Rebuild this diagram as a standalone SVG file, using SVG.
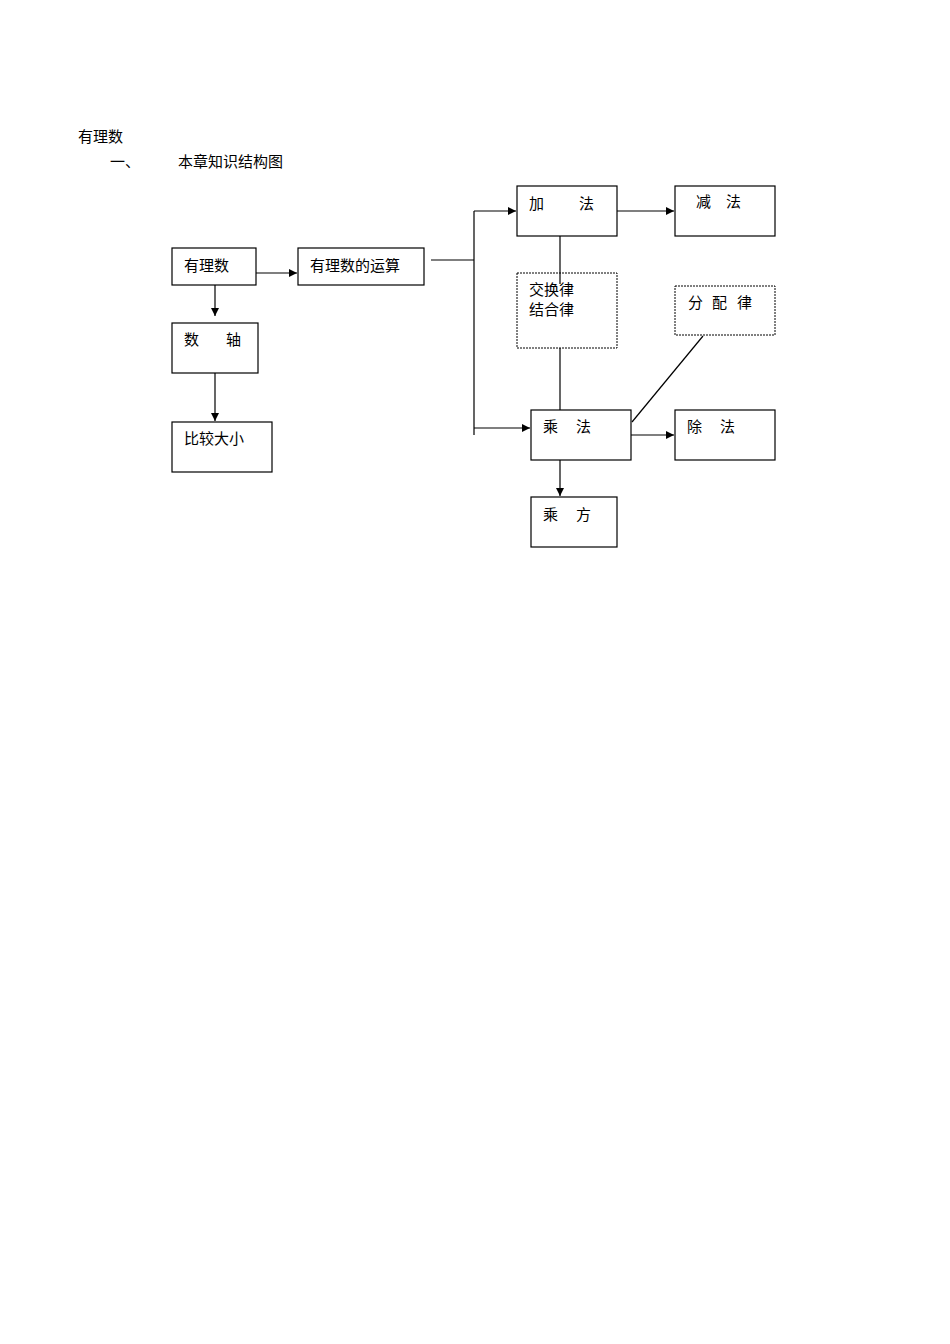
<svg xmlns="http://www.w3.org/2000/svg" width="950" height="1344" viewBox="0 0 950 1344">
<style>
text{font-family:"Noto Sans CJK SC","Liberation Serif",serif;font-size:15px;fill:#000}
.b{fill:#fff;stroke:#000;stroke-width:1.2}
.d{fill:#fff;stroke:#000;stroke-width:1;stroke-dasharray:2,1}
.c{fill:none;stroke:#000;stroke-width:1.2}
</style>
<defs><marker id="a" viewBox="0 0 10 10" refX="10" refY="5" markerWidth="8" markerHeight="8" markerUnits="userSpaceOnUse" orient="auto"><path d="M0,0L10,5L0,10z"/></marker></defs>
<rect width="950" height="1344" fill="#fff"/>
<text x="78" y="142">有理数</text>
<text x="110" y="167">一、</text>
<text x="178" y="167">本章知识结构图</text>
<g id="connectors">
<path class="c" d="M256,273H297" marker-end="url(#a)"/>
<path class="c" d="M215,285V316" marker-end="url(#a)"/>
<path class="c" d="M215,373V421" marker-end="url(#a)"/>
<path class="c" d="M431,260H474M474,211V435"/>
<path class="c" d="M474,211H516" marker-end="url(#a)"/>
<path class="c" d="M474,428H530" marker-end="url(#a)"/>
<path class="c" d="M617,211H674" marker-end="url(#a)"/>
<path class="c" d="M631,435H674" marker-end="url(#a)"/>
<path class="c" d="M560,460V496" marker-end="url(#a)"/>
<path class="c" d="M560,348V410"/>
<path class="c" d="M632,422L703,336"/>
</g>
<g id="n1"><rect class="b" x="172" y="248" width="84" height="37"/><text x="184" y="271">有理数</text></g>
<g id="n2"><rect class="b" x="298" y="248" width="126" height="37"/><text x="310" y="271">有理数的运算</text></g>
<g id="n3"><rect class="b" x="172" y="323" width="86" height="50"/><text x="184" y="345">数</text><text x="226" y="345">轴</text></g>
<g id="n4"><rect class="b" x="172" y="422" width="100" height="50"/><text x="184" y="444">比较大小</text></g>
<g id="n5"><rect class="b" x="517" y="186" width="100" height="50"/><text x="529" y="209">加</text><text x="579" y="209">法</text></g>
<g id="n6"><rect class="b" x="675" y="186" width="100" height="50"/><text x="696" y="207">减</text><text x="726" y="207">法</text></g>
<g id="n7"><rect class="d" x="517" y="273" width="100" height="75"/><path class="c" d="M560,236V284"/><text x="529" y="295">交换律</text><text x="529" y="315">结合律</text></g>
<g id="n8"><rect class="d" x="675" y="286" width="100" height="49"/><text x="688" y="308">分</text><text x="712" y="308">配</text><text x="737" y="308">律</text></g>
<g id="n9"><rect class="b" x="531" y="410" width="100" height="50"/><text x="543" y="432">乘</text><text x="576" y="432">法</text></g>
<g id="n10"><rect class="b" x="675" y="410" width="100" height="50"/><text x="687" y="432">除</text><text x="720" y="432">法</text></g>
<g id="n11"><rect class="b" x="531" y="497" width="86" height="50"/><text x="543" y="520">乘</text><text x="576" y="520">方</text></g>
</svg>
